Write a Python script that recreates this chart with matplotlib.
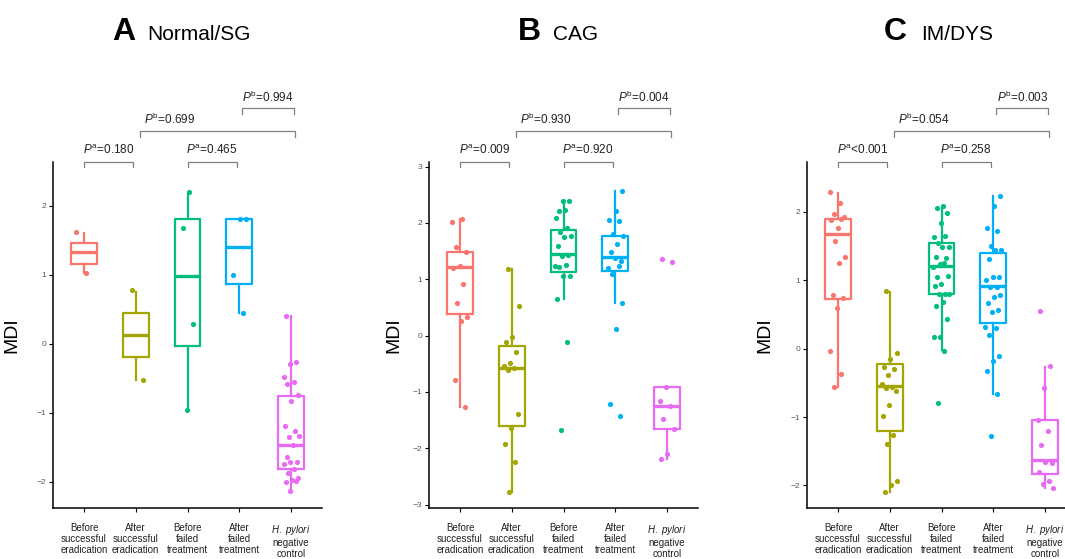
import numpy as np
import matplotlib
matplotlib.use("Agg")
import matplotlib.pyplot as plt
from matplotlib.transforms import blended_transform_factory

plt.rcParams['font.family'] = ['Liberation Sans', 'DejaVu Sans']
plt.rcParams['mathtext.fontset'] = 'custom'
plt.rcParams['mathtext.rm'] = 'Liberation Sans'
plt.rcParams['mathtext.it'] = 'Liberation Sans:italic'

groups = ["Before\nsuccessful\neradication", "After\nsuccessful\neradication",
          "Before\nfailed\ntreatment", "After\nfailed\ntreatment",
          "$\\it{H.\\ pylori}$\nnegative\ncontrol"]
colors = ["#F8766D", "#A3A500", "#00BF7D", "#00B0F6", "#E76BF3"]

letters = ["A", "B", "C"]
names = ["Normal/SG", "CAG", "IM/DYS"]

# ---- panel A: Normal/SG
a_pts = [
    [1.61, 1.02],
    [0.77, -0.52],
    [2.20, 1.68, 0.28, -0.96],
    [1.81, 1.80, 0.99, 0.44],
    [0.40, -0.27, -0.29, -0.49, -0.55, -0.59, -0.75, -0.83, -1.19, -1.27,
     -1.35, -1.34, -1.47, -1.64, -1.72, -1.72, -1.75, -1.81, -1.88, -1.94,
     -1.98, -2.00, -1.99, -2.14],
]
a_q1 = [1.16, -0.20, -0.03, 0.86, -1.81]
a_med = [1.32, 0.13, 0.98, 1.40, -1.47]
a_q3 = [1.46, 0.45, 1.81, 1.81, -0.76]
a_lo = [1.02, -0.52, -0.95, 0.44, -2.13]
a_hi = [1.60, 0.75, 2.18, 1.81, 0.40]

# ---- panel B: CAG
b_pts = [
    [2.02, 2.06, 1.58, 1.49, 1.23, 1.20, 0.92, 0.57, 0.33, 0.25, -0.79, -1.27],
    [1.18, 0.52, -0.03, -0.12, -0.30, -0.48, -0.54, -0.58, -0.61, -1.40,
     -1.64, -1.93, -2.24, -2.77],
    [2.23, 2.21, 2.39, 2.38, 2.08, 1.90, 1.83, 1.76, 1.75, 1.59, 1.43, 1.41,
     1.24, 1.26, 1.21, 1.05, 1.05, 0.64, -0.11, -1.67],
    [2.57, 2.21, 2.05, 2.04, 1.80, 1.76, 1.62, 1.49, 1.33, 1.37, 1.20, 1.23,
     1.10, 0.58, 0.12, -1.22, -1.43],
    [1.35, 1.31, -0.91, -1.17, -1.25, -1.48, -1.65, -2.10, -2.19],
]
b_q1 = [0.38, -1.60, 1.13, 1.14, -1.65]
b_med = [1.21, -0.57, 1.45, 1.40, -1.25]
b_q3 = [1.49, -0.18, 1.88, 1.77, -0.91]
b_lo = [-1.27, -2.77, 0.64, 0.58, -2.19]
b_hi = [2.06, 1.18, 2.38, 2.57, -0.91]

# ---- panel C: IM/DYS
c_pts = [
    [2.29, 2.13, 1.97, 1.92, 1.77, 1.88, 1.90, 1.58, 1.34, 1.26, 0.78, 0.74,
     0.60, -0.04, -0.37, -0.56],
    [0.84, -0.07, -0.15, -0.27, -0.29, -0.38, -0.51, -0.56, -0.58, -0.62,
     -0.82, -0.99, -1.26, -1.40, -1.93, -1.99, -2.09],
    [2.08, 2.06, 1.99, 1.84, 1.63, 1.65, 1.55, 1.49, 1.48, 1.34, 1.32, 1.24,
     1.20, 1.25, 1.05, 1.06, 0.95, 0.92, 0.80, 0.80, 0.80, 0.68, 0.62, 0.43,
     0.17, 0.17, -0.03, -0.80],
    [2.23, 2.08, 1.77, 1.72, 1.50, 1.45, 1.45, 1.31, 1.05, 1.05, 1.00, 0.90,
     0.90, 0.78, 0.75, 0.67, 0.56, 0.54, 0.32, 0.30, 0.20, -0.11, -0.18,
     -0.33, -0.66, -1.28],
    [0.55, -0.25, -0.58, -1.04, -1.21, -1.41, -1.67, -1.66, -1.80, -1.94,
     -1.98, -2.04],
]
c_q1 = [0.72, -1.20, 0.80, 0.38, -1.84]
c_med = [1.68, -0.55, 1.21, 0.92, -1.63]
c_q3 = [1.89, -0.22, 1.54, 1.40, -1.05]
c_lo = [-0.56, -2.10, -0.02, -0.66, -2.04]
c_hi = [2.28, 0.83, 2.06, 2.23, -0.27]

# p values: two "a" comparisons, then the two "b" comparisons
a_pvals = ["=0.180", "=0.465", "=0.699", "=0.994"]
b_pvals = ["=0.009", "=0.920", "=0.930", "=0.004"]
c_pvals = ["<0.001", "=0.258", "=0.054", "=0.003"]

panels = [
    (a_pts, a_q1, a_med, a_q3, a_lo, a_hi, a_pvals, (-2.38, 2.63), range(-2, 3)),
    (b_pts, b_q1, b_med, b_q3, b_lo, b_hi, b_pvals, (-3.06, 3.08), range(-3, 4)),
    (c_pts, c_q1, c_med, c_q3, c_lo, c_hi, c_pvals, (-2.33, 2.73), range(-2, 3)),
]

W, H = 1065, 559
fig = plt.figure(figsize=(W / 100, H / 100), dpi=100)

lefts = [53, 429, 807]
ax_w = 269
ax_top, ax_bot = 162, 508
title_off = [(0.219, 0.352), (0.331, 0.461), (0.286, 0.424)]
ylab_x = [-0.123, -0.10, -0.126]


def fy(p):
    return 1 - p / H


for k, (pts, q1, med, q3, lo, hi, pv, ylim, yt) in enumerate(panels):
    ax = fig.add_axes([lefts[k] / W, 1 - ax_bot / H, ax_w / W, (ax_bot - ax_top) / H])
    pos = np.arange(1, 6)
    stats = [dict(q1=q1[i], med=med[i], q3=q3[i], whislo=lo[i], whishi=hi[i])
             for i in range(5)]
    bp = ax.bxp(stats, positions=pos, widths=0.5, showfliers=False, showcaps=False,
                patch_artist=False)
    for i in range(5):
        bp['boxes'][i].set(color=colors[i], linewidth=1.6)
        bp['medians'][i].set(color=colors[i], linewidth=2.4)
        for w in bp['whiskers'][2 * i:2 * i + 2]:
            w.set(color=colors[i], linewidth=1.6)
    for i, vals in enumerate(pts):
        n = len(vals)
        jit = ((np.arange(n) * 0.618034 + 0.3 * i) % 1 - 0.5) * 0.32
        ax.scatter(pos[i] + jit, vals, s=14, color=colors[i], zorder=3,
                   linewidths=0)

    ax.set_xlim(0.4, 5.6)
    ax.set_ylim(*ylim)
    ax.set_yticks(list(yt))
    ax.set_xticks(pos)
    ax.set_xticklabels(groups, fontsize=7, color='#222222', linespacing=1.1)
    ax.tick_params(axis='y', labelsize=6, labelcolor='#555555', length=3, width=0.8, pad=2)
    ax.tick_params(axis='x', length=3, width=0.8, pad=8)
    for s in ['top', 'right']:
        ax.spines[s].set_visible(False)
    for s in ['left', 'bottom']:
        ax.spines[s].set_linewidth(1.1)
    ax.set_ylabel("MDI", fontsize=14)
    ax.yaxis.set_label_coords(ylab_x[k], 0.5)

    # titles
    ttr = blended_transform_factory(ax.transAxes, fig.transFigure)
    ax.text(title_off[k][0], fy(40), letters[k], transform=ttr,
            fontsize=23, fontweight='bold', va='baseline', ha='left')
    ax.text(title_off[k][1], fy(40), names[k], transform=ttr,
            fontsize=15, va='baseline', ha='left')

    # significance brackets
    tr = blended_transform_factory(ax.transData, fig.transFigure)
    brackets = [
        (1.0, 1.95, 162, 167, 1.475, 150, 'a', pv[0]),
        (3.0, 3.95, 162, 167, 3.475, 150, 'a', pv[1]),
        (2.08, 5.08, 131, 137, 2.65, 119, 'b', pv[2]),
        (4.05, 5.05, 108, 114, 4.56, 97, 'b', pv[3]),
    ]
    for x0, x1, yb, yl, xt, ytx, sup, txt in brackets:
        ax.plot([x0, x0, x1, x1], [fy(yl), fy(yb), fy(yb), fy(yl)], transform=tr,
                color='#808080', linewidth=0.9, clip_on=False)
        ax.text(xt, fy(ytx), "$\\mathit{P}^{\\mathrm{%s}}$%s" % (sup, txt), transform=tr,
                ha='center', va='center', fontsize=8.5, color='#222222')

fig.savefig("out.png", dpi=100)
